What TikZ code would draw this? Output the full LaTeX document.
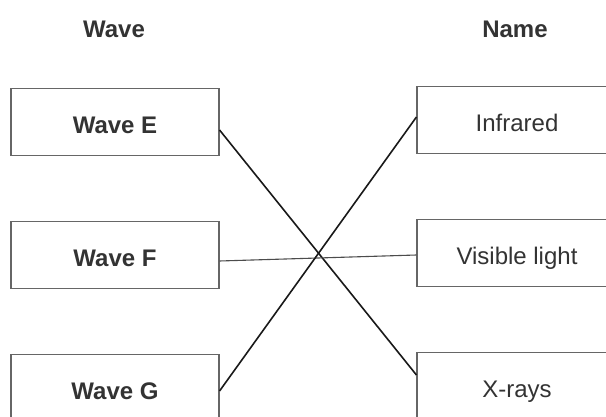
\documentclass[tikz,border=0pt]{standalone}
\usepackage{fontspec}
\setmainfont{Liberation Sans}
\begin{document}
\begin{tikzpicture}[x=1pt,y=-1pt,
  box/.style={draw=black!60, line width=1.1pt, rectangle, minimum width=208pt,
    minimum height=67pt, inner sep=0pt, text height=23pt, text depth=0pt,
    text=black!80, font=\fontsize{24}{28}\selectfont},
  leftbox/.style={box, font=\fontsize{24}{28}\selectfont\bfseries},
  header/.style={text=black!80, font=\fontsize{24}{28}\selectfont\bfseries},
  link/.style={draw=black!90, line width=1.6pt},
  thinlink/.style={draw=black!70, line width=1.1pt}]
  \fill[white] (0,0) rectangle (606,417);
  \useasboundingbox (0,0) rectangle (606,417);
  \clip (0,0) rectangle (606,417);

  % column headings
  \node[header] (hwave) at (114,29) {Wave};
  \node[header] (hname) at (515,29) {Name};

  % waves
  \node[leftbox] (we) at (115,122) {Wave E};
  \node[leftbox] (wf) at (115,255) {Wave F};
  \node[leftbox] (wg) at (115,388) {Wave G};

  % names
  \node[box, minimum width=200pt] (ir) at (517,120) {Infrared};
  \node[box, minimum width=200pt] (vl) at (517,253) {Visible light};
  \node[box, minimum width=200pt] (xr) at (517,386) {X-rays};

  % matching lines
  \draw[link] ([yshift=-8pt]we.east) -- ([yshift=11pt]xr.west);
  \draw[thinlink] ([yshift=-6pt]wf.east) -- ([yshift=-2pt]vl.west);
  \draw[link] ([yshift=-3pt]wg.east) -- ([yshift=3pt]ir.west);
\end{tikzpicture}
\end{document}
